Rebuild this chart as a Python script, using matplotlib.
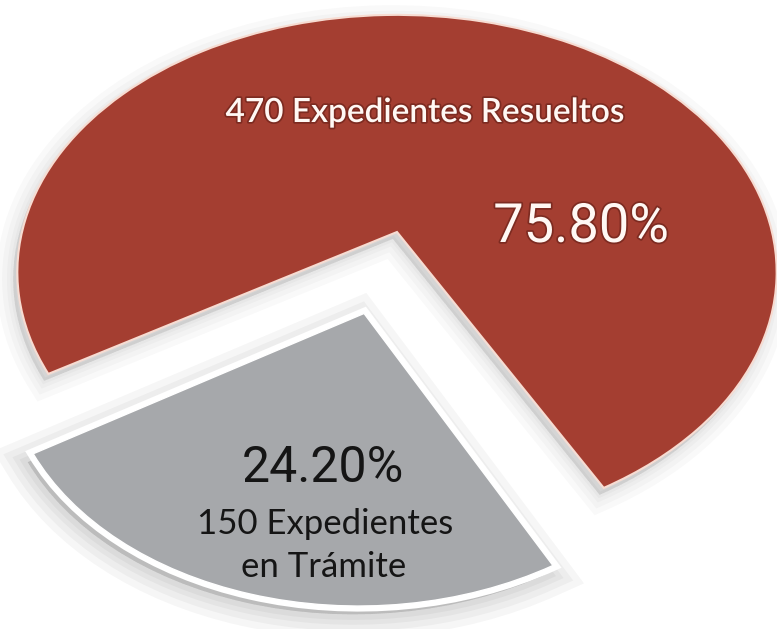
import numpy as np
import matplotlib.pyplot as plt
import matplotlib.patheffects as pe
from matplotlib.path import Path
from matplotlib.patches import PathPatch

# datos
etiquetas = ["470 Expedientes Resueltos", "150 Expedientes\nen Trámite"]
expedientes = [470, 150]
porcentajes = ["75.80%", "24.20%"]
colores = ["#a43e31", "#a6a8ab"]

# vista inclinada del disco (perspectiva simple), en pixeles
cx, cy = 397, 232
A, B, k = 375, 251, 0.156


def proyectar(v):
    x, y = v[:, 0], v[:, 1]
    d = 1 + k * y
    return np.column_stack([cx + A * x / d, cy - B * y / d])


def sombra(offset, anchos, alpha):
    # sombra difusa: varias capas transparentes superpuestas
    return [pe.SimplePatchShadow(offset=offset, shadow_rgbFace="k", alpha=alpha,
                                 linewidth=w, foreground="k") for w in anchos]


fig = plt.figure(figsize=(7.77, 6.29), dpi=100)
ax = fig.add_axes([0, 0, 1, 1])

wedges, _ = ax.pie(expedientes, colors=colores, startangle=298.4,
                   explode=[0.0, 0.32], radius=1.0)

parches = []
for i, w in enumerate(wedges):
    p = w.get_path()
    v = p.vertices.copy()
    if i == 1:
        # sector separado un poco mas pequeño
        v = np.array(w.center) + 0.9 * (v - np.array(w.center))
    parches.append(PathPatch(Path(proyectar(v), p.codes),
                             facecolor=w.get_facecolor(), zorder=2 + i))
    w.remove()

rojo, gris = parches
rojo.set_edgecolor("#f7dcd2")
rojo.set_linewidth(1.5)
rojo.set_path_effects(sombra((-3, -5), (24, 16, 9, 4), 0.025) + [pe.Normal()])
gris.set_edgecolor("white")
gris.set_linewidth(1)
gris.set_path_effects(sombra((-4, -6), (34, 24, 15, 8), 0.035)
                      + [pe.Stroke(linewidth=8, foreground="white"), pe.Normal()])
ax.add_patch(rojo)
ax.add_patch(gris)

ax.set_aspect("auto")
ax.set_xlim(0, 777)
ax.set_ylim(629, 0)
ax.axis("off")

fuente = ["Lato", "DejaVu Sans"]
angosta = ["Liberation Sans Narrow", "Roboto", "DejaVu Sans"]
halo = [pe.withStroke(linewidth=2.5, foreground="#7d2b21")]

ax.text(425, 122, etiquetas[0], ha="center", va="baseline", fontsize=24,
        color="#fff8f4", family=fuente, weight="semibold", path_effects=halo, zorder=5)
ax.text(581, 242, porcentajes[0], ha="center", va="baseline", fontsize=39,
        color="#fff8f4", family=angosta, path_effects=halo, zorder=5)
ax.text(323, 482, porcentajes[1], ha="center", va="baseline", fontsize=36,
        color="#151515", family=angosta, zorder=5)
lineas = etiquetas[1].split("\n")
ax.text(325, 534, lineas[0], ha="center", va="baseline", fontsize=25,
        color="#151515", family=fuente, zorder=5)
ax.text(324, 577, lineas[1], ha="center", va="baseline", fontsize=25,
        color="#151515", family=fuente, zorder=5)

fig.savefig("out.png", dpi=100, facecolor="white")
